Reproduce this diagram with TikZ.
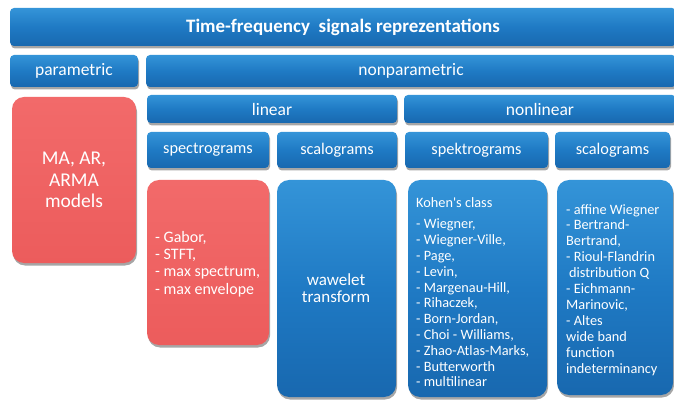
\documentclass[tikz,border=0pt]{standalone}
\usepackage{fontspec}
\setmainfont{Carlito}
\usetikzlibrary{shadows}
\definecolor{bluetop}{HTML}{3494D8}
\definecolor{bluemid}{HTML}{1F7AC4}
\definecolor{bluebot}{HTML}{1868AF}
\definecolor{redtop}{HTML}{F26A6A}
\definecolor{redbot}{HTML}{EC5C5C}
\tikzset{
  boxbase/.style={draw=none, rounded corners=#1, text=white, inner sep=0pt,
    drop shadow={shadow xshift=1pt, shadow yshift=-2.5pt, opacity=0.35, fill=black}},
  bluehead/.style={boxbase=4pt, top color=bluetop, bottom color=bluebot, middle color=bluemid},
  bluetall/.style={boxbase=12pt, top color=bluetop, bottom color=bluebot, middle color=bluemid},
  redtall/.style={boxbase=12pt, top color=redtop, bottom color=redbot},
  lbl/.style={text=white, inner sep=0pt, align=left},
  f15/.style={font=\fontsize{16.3}{19}\selectfont},
  f16/.style={font=\fontsize{17.5}{20}\selectfont},
}
\newcommand\bx[7]{\node[#2, minimum width={(#5)-(#3)}, minimum height={(#6)-(#4)}, align=center] (#1) at ({((#3)+(#5))/2},{((#4)+(#6))/2}) {#7};}
\begin{document}
\begin{tikzpicture}[x={(1pt,0)}, y={(0,-1pt)}]
\useasboundingbox (0,0) rectangle (674,403);
% header rows
\bx{title}{bluehead, font=\fontsize{19}{22}\selectfont\bfseries}{10}{8}{676}{46}{Time-frequency\ \ signals reprezentations}
\bx{param}{bluehead, f16}{10}{55}{138}{87}{parametric}
\bx{nonparam}{bluehead, f16}{146}{55}{676}{87}{nonparametric}
\bx{linear}{bluehead, f16}{147}{95}{397}{123}{linear}
\bx{nonlinear}{bluehead, f16}{404}{95}{676}{123}{nonlinear}
\bx{spec}{bluehead, f15}{147}{132}{269}{168}{spectrograms}
\bx{scal}{bluehead, f15}{277}{132}{397}{168}{scalograms}
\bx{spek}{bluehead, f15}{405}{132}{548}{168}{spektrograms}
\bx{scal2}{bluehead, f15}{555}{132}{670}{168}{scalograms}
% tall boxes
\bx{ma}{redtall, font=\fontsize{19.5}{21.5}\selectfont}{12}{97}{136}{263}{MA, AR,\\ARMA\\models}
\bx{gabor}{redtall}{147}{180}{269}{345}{}
\bx{wav}{bluetall}{277}{180}{396}{397}{}
\bx{kohen}{bluetall}{408}{180}{547}{397}{}
\bx{wide}{bluetall}{557}{180}{673}{395}{}
% texts
\node[lbl, anchor=west, font=\fontsize{16}{17.3}\selectfont] (gabortxt) at (155,264)
  {- Gabor,\\- STFT,\\- max spectrum,\\- max envelope};
\node[lbl, align=center, font=\fontsize{17}{17.5}\selectfont] (wavtxt) at (336,288)
  {wawelet\\transform};
\node[lbl, anchor=north west, font=\fontsize{14.3}{15.8}\selectfont] (kohentxt) at (416,197)
  {Kohen\textquotesingle s class\\[6pt]- Wiegner,\\- Wiegner-Ville,\\- Page,\\- Levin,\\- Margenau-Hill,\\- Rihaczek,\\- Born-Jordan,\\- Choi - Williams,\\- Zhao-Atlas-Marks,\\- Butterworth\\- multilinear};
\node[lbl, anchor=north west, font=\fontsize{14.3}{15.9}\selectfont] (widetxt) at (566,204)
  {- affine Wiegner\\- Bertrand-\\Bertrand,\\- Rioul-Flandrin\\\hspace*{3pt}distribution Q\\- Eichmann-\\Marinovic,\\- Altes\\wide band\\function\\indeterminancy};
\end{tikzpicture}
\end{document}
